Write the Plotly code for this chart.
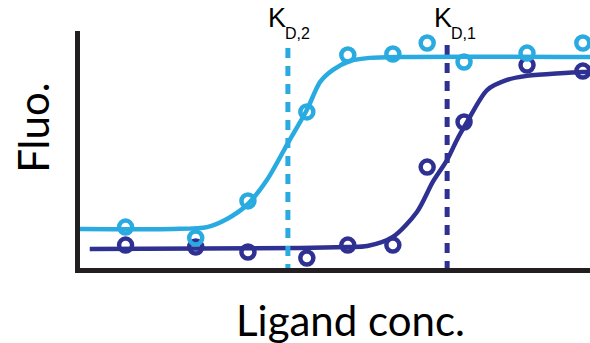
import plotly.graph_objects as go

# Shared ligand concentrations (log scale, arbitrary units)
conc = [0.93, 2.30, 3.32, 4.47, 5.27, 6.15, 6.82, 7.54, 8.77, 9.86]

# Measured fluorescence (arbitrary units)
fluo_2 = [1.83, 1.38, 2.92, 6.63, 9.00, 9.04, 9.50, 8.71, 9.08, 9.50]   # light blue
fluo_1 = [1.08, 1.00, 0.79, 0.54, 1.08, 1.08, 4.33, 6.21, 8.58, 8.33]   # dark blue

# Fitted curves
fit2_x = [0.0, 1.86, 2.52, 2.91, 3.30, 3.69, 4.10, 4.47, 4.73, 4.98, 5.31, 5.70, 6.29, 10.0]
fit2_y = [1.75, 1.75, 1.83, 2.17, 2.75, 3.79, 5.33, 6.71, 7.88, 8.38, 8.75, 8.88, 8.92, 8.92]
fit1_x = [0.23, 4.34, 5.27, 5.65, 6.15, 6.62, 6.93, 7.21, 7.40, 7.60, 7.99, 8.38, 8.77, 9.86, 10.0]
fit1_y = [0.92, 0.96, 1.00, 1.04, 1.42, 2.46, 3.71, 4.63, 5.46, 6.21, 7.54, 7.96, 8.13, 8.29, 8.29]

# Dissociation constants
kd_values = [7.21, 4.10]          # K_D,1 , K_D,2
kd_labels = ["D,1", "D,2"]
kd_tops = [9.42, 9.29]

LIGHT = "#29ABE2"
DARK = "#2E3192"
BLACK = "#231F20"

fig = go.Figure()

# K_D,1 dashed line (dark)
fig.add_trace(go.Scatter(x=[kd_values[0], kd_values[0]], y=[kd_tops[0], -0.2], mode="lines",
                         line=dict(color=DARK, width=5, dash="10px,8px"), hoverinfo="skip"))
# Dark series
fig.add_trace(go.Scatter(x=fit1_x, y=fit1_y, mode="lines",
                         line=dict(color=DARK, width=4.5, shape="spline", smoothing=0.8)))
fig.add_trace(go.Scatter(x=conc, y=fluo_1, mode="markers", cliponaxis=False,
                         marker=dict(symbol="circle-open", size=13, color=DARK,
                                     line=dict(color=DARK, width=4.5))))
# K_D,2 dashed line (light)
fig.add_trace(go.Scatter(x=[kd_values[1], kd_values[1]], y=[kd_tops[1], -0.2], mode="lines",
                         line=dict(color=LIGHT, width=5, dash="10px,8px"), hoverinfo="skip"))
# Light series
fig.add_trace(go.Scatter(x=fit2_x, y=fit2_y, mode="lines",
                         line=dict(color=LIGHT, width=4.5, shape="spline", smoothing=0.8)))
fig.add_trace(go.Scatter(x=conc, y=fluo_2, mode="markers", cliponaxis=False,
                         marker=dict(symbol="circle-open", size=13, color=LIGHT,
                                     line=dict(color=LIGHT, width=4.5))))

# K labels
k_shifts = [(-4.5, 16.5), (-11, 9.5)]
for kd, lab, (ks, ss) in zip(kd_values, kd_labels, k_shifts):
    fig.add_annotation(x=kd, xref="x", y=1.055, yref="paper", text="K", showarrow=False,
                       xshift=ks, xanchor="center", yanchor="middle",
                       font=dict(family="Liberation Sans, Arial", size=27, color="#000000"))
    fig.add_annotation(x=kd, xref="x", y=0.99, yref="paper", text=lab, showarrow=False,
                       xshift=ss, xanchor="center", yanchor="middle",
                       font=dict(family="Liberation Sans, Arial", size=16, color="#000000"))

# Axis titles
fig.add_annotation(x=0.53, xref="paper", y=-0.218, yref="paper", text="Ligand conc.",
                   showarrow=False, xanchor="center", yanchor="middle",
                   font=dict(family="Lato", size=42, color="#000000"))
fig.add_annotation(x=-0.091, xref="paper", y=0.59, yref="paper", text="Fluo.",
                   showarrow=False, xanchor="center", yanchor="middle", textangle=-90,
                   font=dict(family="Lato", size=42, color="#000000"))

axis_common = dict(showline=True, linewidth=5, linecolor=BLACK, showgrid=False,
                   zeroline=False, showticklabels=False, ticks="")
fig.update_xaxes(range=[0.04, 10], **axis_common)
fig.update_yaxes(range=[0.125, 10], **axis_common)

fig.update_layout(width=590, height=343, margin=dict(l=80, r=0, t=31, b=75),
                  paper_bgcolor="white", plot_bgcolor="white", showlegend=False)

fig.write_html("out.html", config={"displayModeBar": False},
               post_script="document.body.style.margin='0';document.body.style.overflow='hidden';")
